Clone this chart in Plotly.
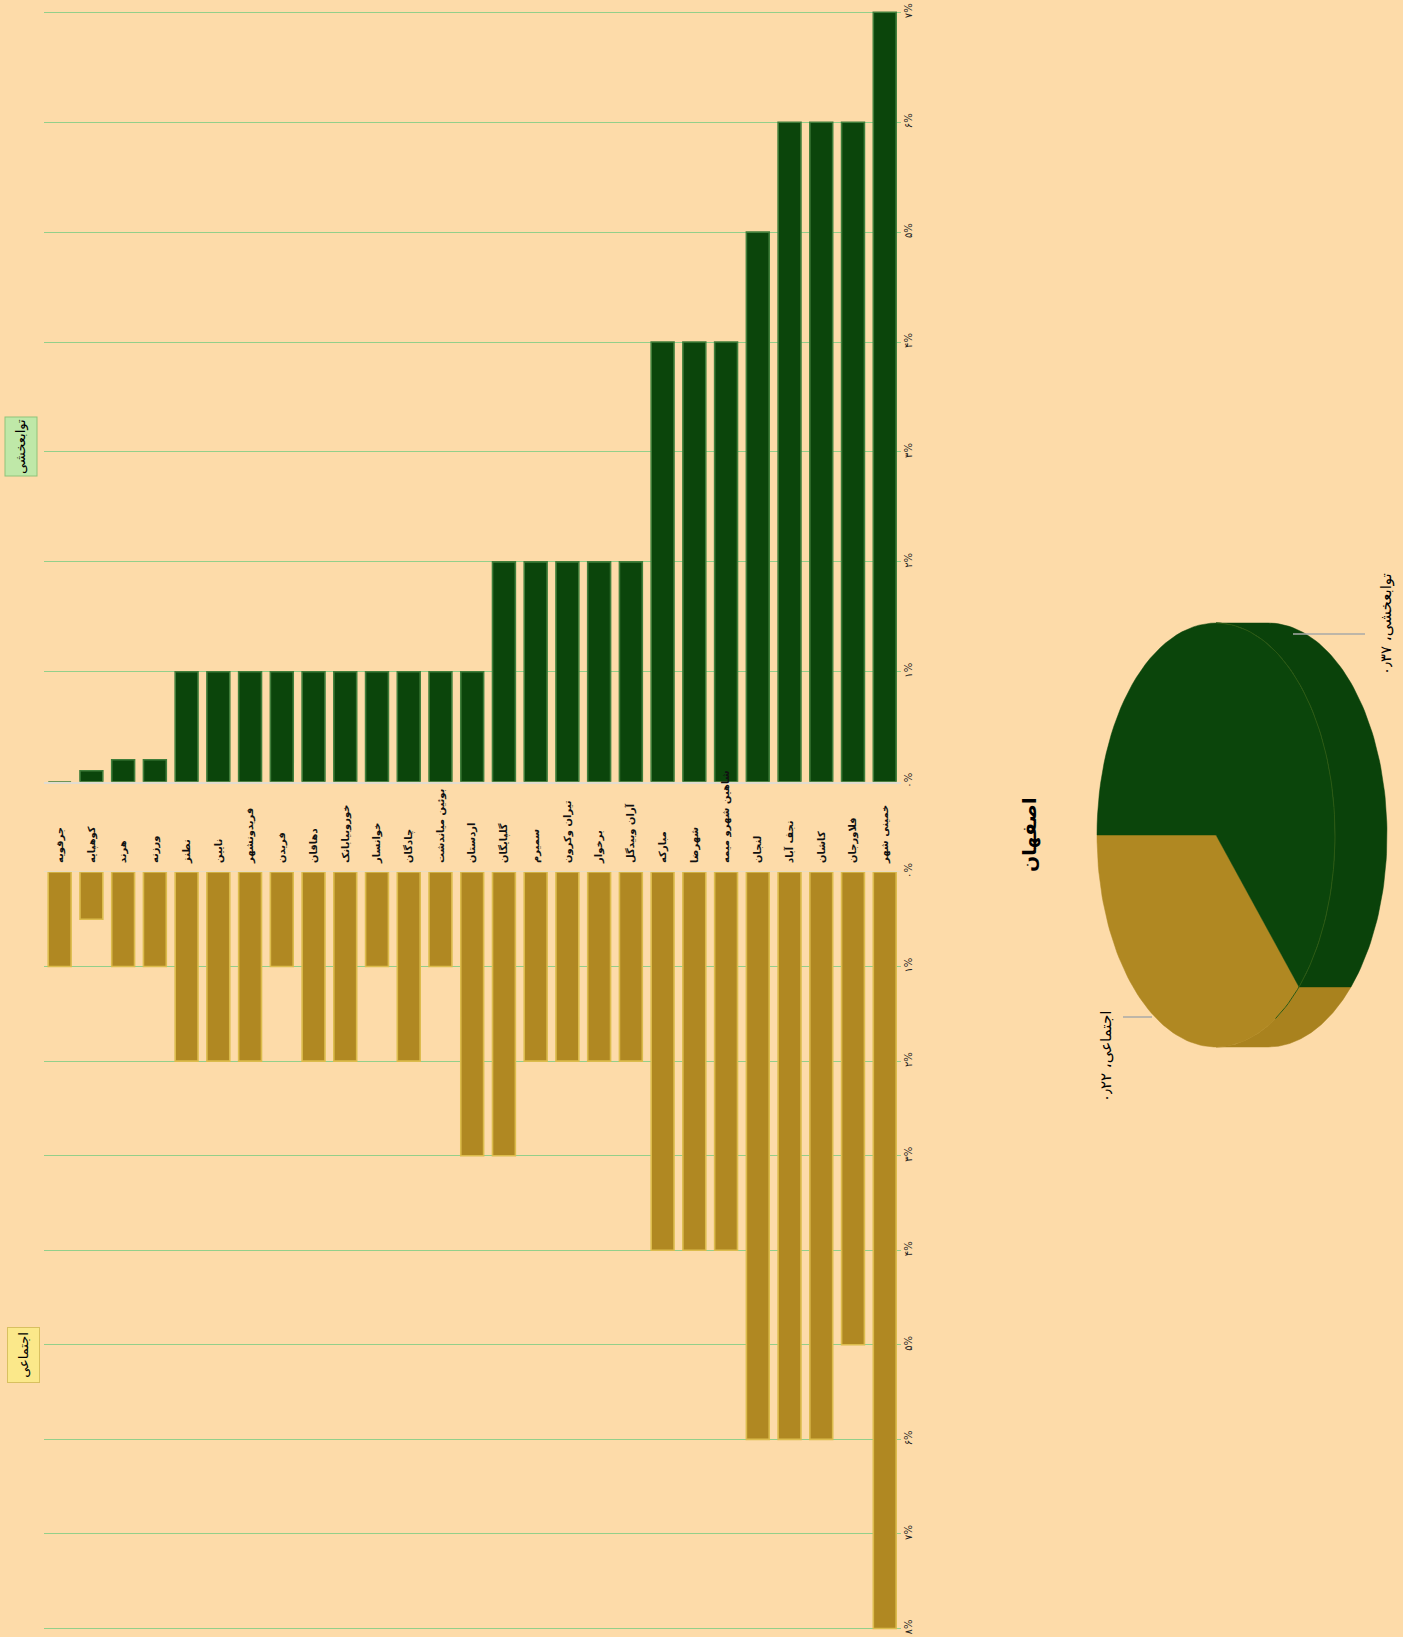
import math
import plotly.graph_objects as go

W, H = 1403, 1637

categories = ["جرقویه", "کوهپایه", "هرند", "ورزنه", "نطنز", "نایین", "فریدونشهر", "فریدن",
              "دهاقان", "خوروبیابانک", "خوانسار", "چادگان", "بوئین میاندشت", "اردستان",
              "گلپایگان", "سمیرم", "تیران وکرون", "برخوار", "آران وبیدگل", "مبارکه", "شهرضا",
              "شاهین شهرو میمه", "لنجان", "نجف آباد", "کاشان", "فلاورجان", "خمینی شهر"]
tavabe_values = [0, 0.1, 0.2, 0.2, 1, 1, 1, 1, 1, 1, 1, 1, 1, 1, 2, 2, 2, 2, 2, 4, 4, 4, 5, 6, 6, 6, 7]
ejtemai_values = [1, 0.5, 1, 1, 2, 2, 2, 1, 2, 2, 1, 2, 1, 3, 3, 2, 2, 2, 2, 4, 4, 4, 6, 6, 6, 5, 8]

top_ticks = [0, 1, 2, 3, 4, 5, 6, 7]
top_ticktext = ["۰%", "۱%", "۲%", "۳%", "۴%", "۵%", "۶%", "۷%"]
bot_ticks = [0, 1, 2, 3, 4, 5, 6, 7, 8]
bot_ticktext = ["۰%", "۱%", "۲%", "۳%", "۴%", "۵%", "۶%", "۷%", "۸%"]

series_names = ["توابعخشی", "اجتماعی"]
pie_values = [0.37, 0.22]
pie_value_text = ["۰٫۳۷", "۰٫۲۲"]
pie_title = "اصفهان"

GREEN = "#0b450b"
GREEN_EDGE = "#3f7d3a"
GOLD = "#b08822"
GOLD_EDGE = "#dcbc4c"
BG = "#FDDBA9"
GRID = "#93cf8a"
FONT = "DejaVu Sans"


def px(x):
    return x / W


def py(y):
    return 1 - y / H


fig = go.Figure()

fig.add_trace(go.Bar(x=categories, y=tavabe_values, xaxis="x", yaxis="y",
                     marker=dict(color=GREEN, line=dict(color=GREEN_EDGE, width=1.6)),
                     name=series_names[0], showlegend=False))
fig.add_trace(go.Bar(x=categories, y=ejtemai_values, xaxis="x2", yaxis="y2",
                     marker=dict(color=GOLD, line=dict(color=GOLD_EDGE, width=1.6)),
                     name=series_names[1], showlegend=False))

# ---- pie (3D-looking ellipse) built from pie_values ----
total = sum(pie_values)
frac_gold = pie_values[1] / total
start = 180.0
gold_end = start + 360 * frac_gold
depth = 0.437


def arc(t1, t2, shift=0.0, n=80):
    pts = []
    for i in range(n + 1):
        t = math.radians(t1 + (t2 - t1) * i / n)
        pts.append((math.cos(t) + shift, math.sin(t)))
    return pts


def add_poly(pts, color):
    xs = [p[0] for p in pts] + [pts[0][0]]
    ys = [p[1] for p in pts] + [pts[0][1]]
    fig.add_trace(go.Scatter(x=xs, y=ys, xaxis="x3", yaxis="y3", mode="lines",
                             fill="toself", fillcolor=color,
                             line=dict(color=color, width=0.5),
                             hoverinfo="skip", showlegend=False))


ge = gold_end - 360
add_poly(arc(-90, ge, depth) + arc(ge, -90, 0), "#a9821e")
add_poly(arc(ge, 90, depth) + arc(90, ge, 0), "#0a420a")
add_poly([(0, 0)] + arc(start, gold_end), GOLD)
add_poly([(0, 0)] + arc(gold_end, start + 360), GREEN)
seam = arc(-60, 90)
fig.add_trace(go.Scatter(x=[p[0] for p in seam], y=[p[1] for p in seam],
                         xaxis="x3", yaxis="y3", mode="lines",
                         line=dict(color="#2c5a14", width=1), hoverinfo="skip",
                         showlegend=False))

x_dom = [px(43.8), px(900.6)]
axis_common = dict(showgrid=True, gridcolor=GRID, gridwidth=1,
                   tickfont=dict(family=FONT, size=10, color="#222222"),
                   tickangle=-90, side="right", ticks="", zeroline=False,
                   fixedrange=True)

# top panel: 0 at y=781.7px, 7 at y=12.3px (about 109.9 px per unit), padded 4px on top
top_ppu = (781.7 - 12.3) / 7
bot_ppu = (1628.5 - 872) / 8

fig.update_layout(
    width=W, height=H,
    margin=dict(l=0, r=0, t=0, b=0, autoexpand=False),
    paper_bgcolor=BG, plot_bgcolor=BG,
    bargap=0.28,
    showlegend=False,
    xaxis=dict(domain=x_dom, anchor="y", showticklabels=False, showgrid=False,
               showline=True, linecolor="#e2dccf", linewidth=1.5, fixedrange=True,
               categoryorder="array", categoryarray=categories),
    yaxis=dict(domain=[py(781.7), py(8.3)], anchor="x", range=[0, 7 + 4 / top_ppu],
               tickvals=top_ticks, ticktext=top_ticktext, **axis_common),
    xaxis2=dict(domain=x_dom, anchor="y2", side="top", showgrid=False,
                showline=True, linecolor="#e9dcc0", linewidth=1, fixedrange=True,
                tickangle=-90, ticks="", ticklabelstandoff=6,
                tickfont=dict(family=FONT, size=10, color="#111111", weight="bold"),
                categoryorder="array", categoryarray=categories),
    yaxis2=dict(domain=[py(1632.5), py(872)], anchor="x2", range=[8 + 4 / bot_ppu, 0],
                tickvals=bot_ticks, ticktext=bot_ticktext, **axis_common),
    xaxis3=dict(domain=[px(1080), px(1403)], anchor="y3",
                range=[(1080 - 1216) / 119, (1403 - 1216) / 119],
                visible=False, fixedrange=True),
    yaxis3=dict(domain=[py(1070), py(600)], anchor="x3",
                range=[(835 - 1070) / 212, (835 - 600) / 212],
                visible=False, fixedrange=True),
)

ann = dict(xref="paper", yref="paper", textangle=-90, showarrow=False,
           xanchor="center", yanchor="middle")

fig.add_annotation(x=px(21.5), y=py(447), text=series_names[0],
                   font=dict(family=FONT, size=13, color="#000000"),
                   width=54, height=27, borderpad=2,
                   bgcolor="#bfe8a8", bordercolor="#8fc47a", borderwidth=1, **ann)
fig.add_annotation(x=px(23), y=py(1355), text=series_names[1],
                   font=dict(family=FONT, size=13, color="#000000"),
                   width=50, height=27, borderpad=2,
                   bgcolor="#fbe88a", bordercolor="#d8c060", borderwidth=1, **ann)

fig.add_annotation(x=px(1030), y=py(835), text="<b>" + pie_title + "</b>",
                   font=dict(family=FONT, size=19, color="#000000"), **ann)

fig.add_annotation(x=px(1386), y=py(624), text=series_names[0] + "، " + pie_value_text[0],
                   font=dict(family=FONT, size=15, color="#000000"), **ann)
fig.add_annotation(x=px(1106), y=py(1057), text=series_names[1] + "، " + pie_value_text[1],
                   font=dict(family=FONT, size=15, color="#000000"), **ann)
fig.add_shape(type="line", xref="paper", yref="paper", x0=px(1293), x1=px(1365),
              y0=py(634), y1=py(634), line=dict(color="#a9aaa8", width=1.5))
fig.add_shape(type="line", xref="paper", yref="paper", x0=px(1123), x1=px(1152),
              y0=py(1017), y1=py(1017), line=dict(color="#a9aaa8", width=1.5))

post = (
    "document.documentElement.style.margin='0';"
    "document.body.style.margin='0';"
    "document.body.style.background='" + BG + "';"
    "var d=document.getElementsByClassName('plotly-graph-div')[0];"
    "d.style.position='fixed';d.style.top='0px';d.style.left='0px';"
)

fig.write_html("out.html", config={"displayModeBar": False}, post_script=post)
